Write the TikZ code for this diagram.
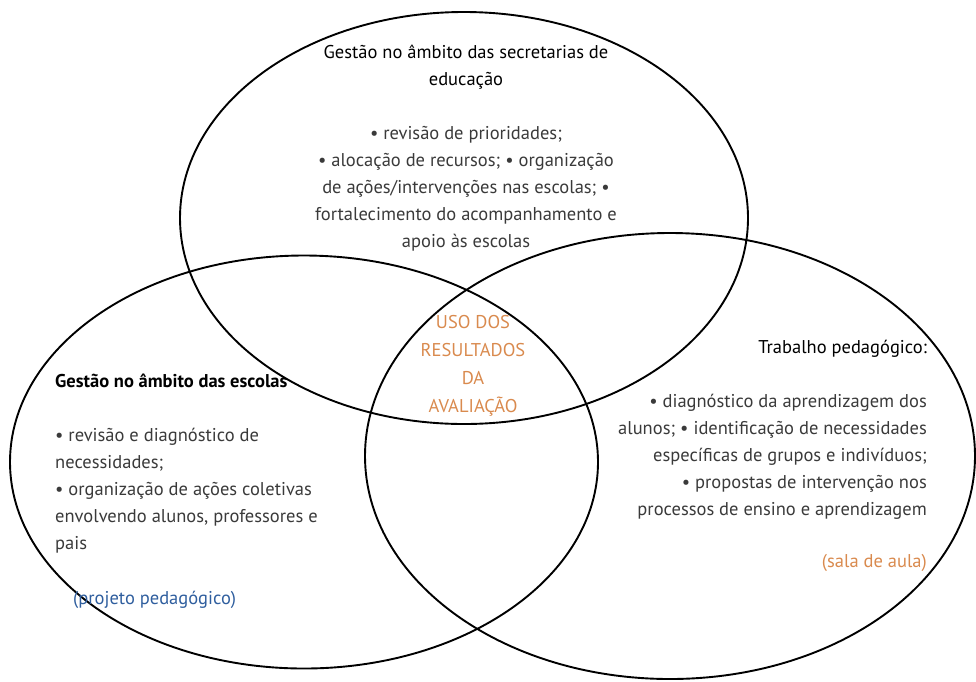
\documentclass[tikz,border=0pt]{standalone}
\usepackage{fontspec}
\setmainfont{PT Sans}
\usepackage{xcolor}
\usepackage{tikz}
\usetikzlibrary{shapes.geometric,positioning}
\definecolor{bodygray}{HTML}{3A3A3A}
\definecolor{resorange}{HTML}{D98A4E}
\definecolor{projblue}{HTML}{2F5E9E}

\begin{document}
\begin{tikzpicture}[x=1pt,y=-1pt,
    area/.style={ellipse,draw=black,line width=1.9pt,inner sep=0pt},
    txt/.style={font=\fontsize{18.5}{27}\selectfont,text=bodygray,inner sep=0pt}]
  \useasboundingbox (0,0) rectangle (976,681);
  % the three areas
  \node[area,minimum width=568,minimum height=412] (sec) at (464,218) {};
  \node[area,minimum width=588,minimum height=413] (esc) at (304,462) {};
  \node[area,minimum width=610,minimum height=446] (aula) at (670,456) {};
  % texts
  \node[txt,align=center] (sectxt) at (466,148)
    {{\color{black}Gestão no âmbito das secretarias de}\\{\color{black}educação}\\[27pt]
     • revisão de prioridades;\\
     • alocação de recursos; • organização\\
     de ações/intervenções nas escolas; •\\
     fortalecimento do acompanhamento e\\
     apoio às escolas};
  \node[txt,align=left,anchor=west] (esctxt) at (55,464)
    {{\color{black}\bfseries Gestão no âmbito das escolas}\\[27pt]
     • revisão e diagnóstico de\\
     necessidades;\\
     • organização de ações coletivas\\
     envolvendo alunos, professores e\\
     pais};
  \node[txt,anchor=west,text=projblue] (proj) at (73,600) {(projeto pedagógico)};
  \node[txt,align=right,anchor=east] (aulatxt) at (927,430)
    {{\color{black}Trabalho pedagógico:}\\[27pt]
     • diagnóstico da aprendizagem dos\\
     alunos; • identificação de necessidades\\
     específicas de grupos e indivíduos;\\
     • propostas de intervenção nos\\
     processos de ensino e aprendizagem};
  \node[txt,anchor=east,text=resorange] (sala) at (927,563) {(sala de aula)};
  \node[txt,align=center,text=resorange,font=\fontsize{18.5}{28}\selectfont] (uso) at (473,366)
    {USO DOS\\RESULTADOS\\DA\\AVALIAÇÃO};
\end{tikzpicture}
\end{document}
